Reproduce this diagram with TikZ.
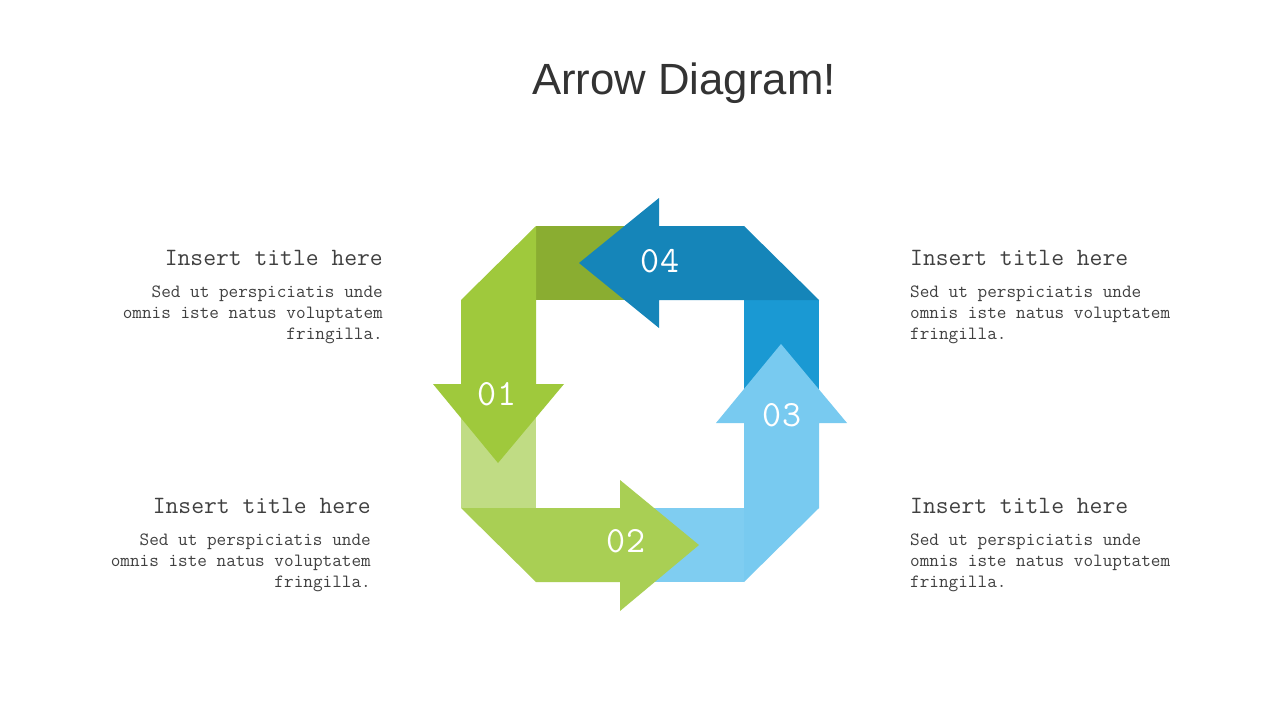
\documentclass[tikz,border=0pt]{standalone}
\usepackage{fontspec}
\setmainfont{Liberation Sans}
\definecolor{gA}{HTML}{9FC93C}
\definecolor{gB}{HTML}{A9CF54}
\definecolor{gLight}{HTML}{C0DC84}
\definecolor{gDark}{HTML}{8AAD31}
\definecolor{bD}{HTML}{1585B9}
\definecolor{bM}{HTML}{1A99D3}
\definecolor{bL}{HTML}{78CAF0}
\definecolor{bBand}{HTML}{7FCDF1}
\definecolor{txtT}{HTML}{333333}
\definecolor{txtB}{HTML}{404040}
\tikzset{
  num/.style={text=white, font=\ttfamily\fontsize{37}{37}\selectfont, inner sep=0pt},
  ttl/.style={text=txtB, font=\ttfamily\fontsize{24.9}{26}\selectfont, inner sep=0pt},
  bodyL/.style={text=txtB, font=\ttfamily\fontsize{18.7}{20.8}\selectfont, inner sep=0pt, align=right, anchor=base east},
  bodyR/.style={text=txtB, font=\ttfamily\fontsize{18.7}{20.8}\selectfont, inner sep=0pt, align=left, anchor=base west},
}
\begin{document}
\begin{tikzpicture}[x=1pt,y=-1pt]
\useasboundingbox[fill=white] (0,0) rectangle (1280,720);
% title
\node[text=txtT, font=\fontsize{43.7}{44}\selectfont, anchor=base, inner sep=0pt] (title) at (684,94) {Arrow Diagram!};
% underlying bands
\fill[gLight] (461,384) rectangle (536,508);
\fill[gDark] (536,226) rectangle (660,300);
\fill[bM] (744,300) rectangle (819,424);
\fill[bBand] (620,508) rectangle (744,582);
% arrow 01
\fill[gA] (536,226) -- (461,300) -- (461,384) -- (433,384) -- (498,463) -- (564,384) -- (536,384) -- cycle;
% arrow 02
\fill[gB] (461,508) -- (536,582) -- (620,582) -- (620,611) -- (699,545) -- (620,480) -- (620,508) -- cycle;
% arrow 03
\fill[bL] (744,582) -- (819,508) -- (819,423) -- (847,423) -- (781,344) -- (716,423) -- (744,423) -- cycle;
% arrow 04
\fill[bD] (744,226) -- (819,300) -- (659,300) -- (659,328) -- (579,263) -- (659,198) -- (659,226) -- cycle;
% numbers
\node[num] (n1) at (497,394) {01};
\node[num] (n2) at (626,541) {02};
\node[num] (n3) at (782,415) {03};
\node[num] (n4) at (660,261) {04};
% texts top-left
\node[ttl, anchor=base east] (t1) at (383,265) {Insert title here};
\node[bodyL] (b1) at (383,339) {Sed ut perspiciatis unde\\omnis iste natus voluptatem\\fringilla.};
% bottom-left
\node[ttl, anchor=base east] (t2) at (371,513) {Insert title here};
\node[bodyL] (b2) at (371,587) {Sed ut perspiciatis unde\\omnis iste natus voluptatem\\fringilla.};
% top-right
\node[ttl, anchor=base west] (t3) at (910,265) {Insert title here};
\node[bodyR] (b3) at (910,339) {Sed ut perspiciatis unde\\omnis iste natus voluptatem\\fringilla.};
% bottom-right
\node[ttl, anchor=base west] (t4) at (910,513) {Insert title here};
\node[bodyR] (b4) at (910,587) {Sed ut perspiciatis unde\\omnis iste natus voluptatem\\fringilla.};
\end{tikzpicture}
\end{document}
